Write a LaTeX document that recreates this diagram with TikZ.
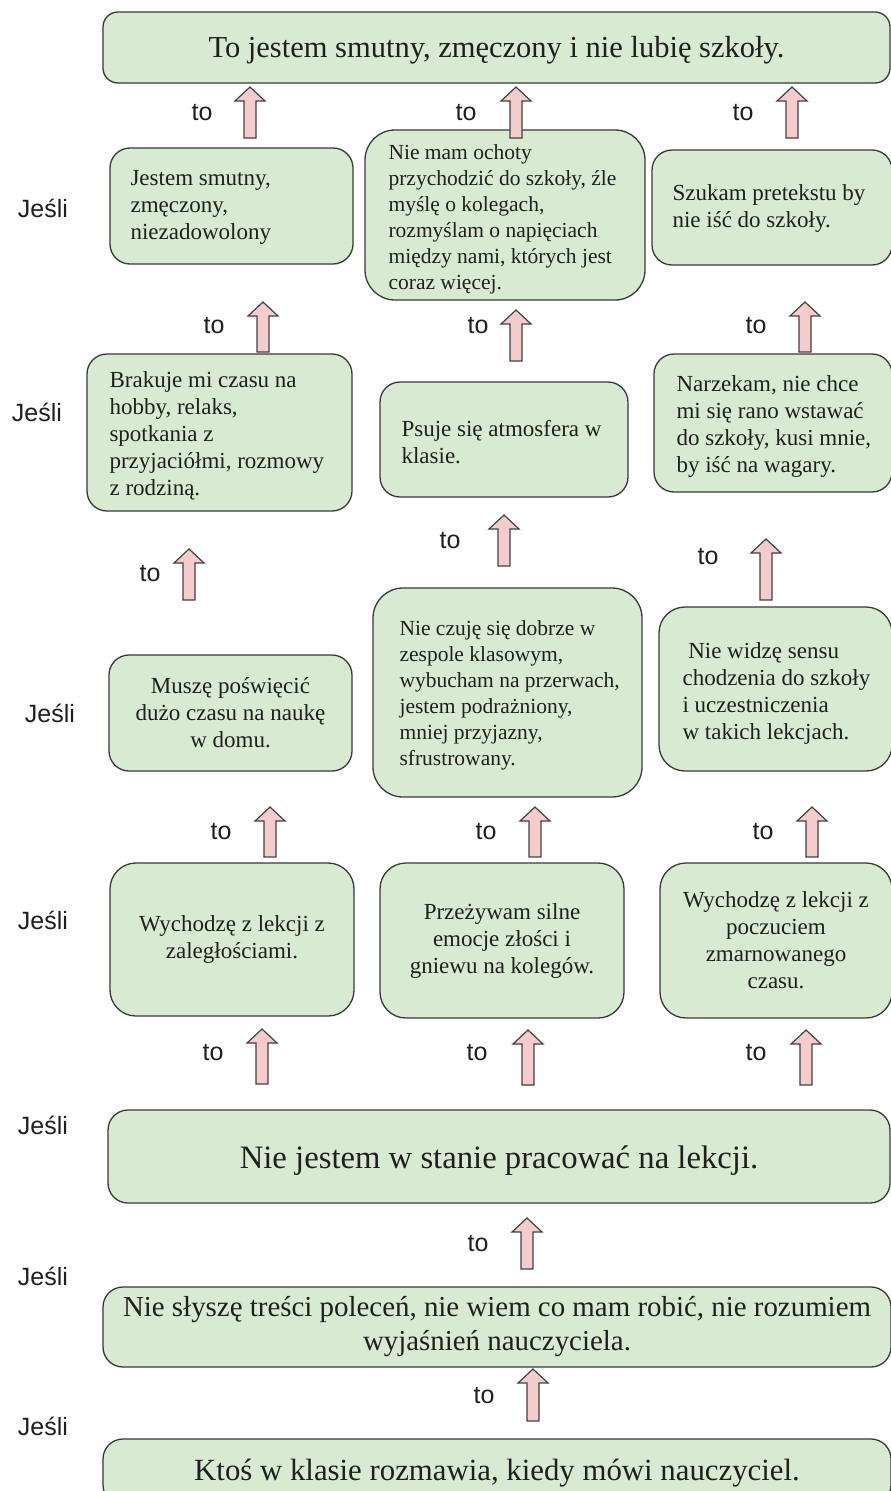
\documentclass[tikz,border=0pt]{standalone}
\usepackage{fontspec}
\setmainfont{Liberation Serif}
\newfontfamily\labelfont{Liberation Sans}
\usetikzlibrary{calc}
\definecolor{boxfill}{HTML}{D9EAD3}
\definecolor{boxline}{HTML}{3A3A3A}
\definecolor{arrowfill}{HTML}{F4CCCC}
\definecolor{arrowline}{HTML}{434343}
\definecolor{inktext}{HTML}{1F1F1F}
\tikzset{
  box/.style={draw=boxline, fill=boxfill, line width=1.3pt, rounded corners=20pt,
    inner xsep=10pt, inner ysep=3pt, text=inktext, font=\fontsize{23}{27}\selectfont},
  centerbox/.style={box, align=center},
  boxtext/.style={anchor=west, align=left, inner sep=0pt, text=inktext,
    font=\fontsize{23}{27}\selectfont},
  linetext/.style={inner sep=0pt, text=inktext},
  jesli/.style={font=\labelfont\fontsize{25}{28}\selectfont, text=inktext},
  tolabel/.style={font=\labelfont\fontsize{25}{28}\selectfont, text=inktext},
  blockarrow/.style={draw=arrowline, fill=arrowfill, line width=1.2pt, line join=miter}
}
% hollow upward block arrow from a base point to a tip point
\newcommand\upblock[2]{%
  \draw[blockarrow] let \p1=(#1), \p2=(#2) in
    (\x1-6pt,\y1) -- (\x1+6pt,\y1) -- (\x1+6pt,\y2-14pt) -- (\x1+15pt,\y2-14pt)
    -- (\x1,\y2) -- (\x1-15pt,\y2-14pt) -- (\x1-6pt,\y2-14pt) -- cycle;}
\begin{document}
\begin{tikzpicture}[x=1pt, y=-1pt]
\useasboundingbox (0,0) rectangle (891,1491);
\clip (0,0) rectangle (891,1491);
\fill[white] (0,0) rectangle (891,1491);

% top conclusion
\node[box, rounded corners=15pt, minimum width=787pt, minimum height=71pt] (top) at (496.5,47.5) {};
\node[linetext, anchor=base, font=\fontsize{30.5}{34}\selectfont] (topt) at ($(top.center)+(0,10)$)
  {To jestem smutny, zmęczony i nie lubię szkoły.};

% first row
\node[box, minimum width=243pt, minimum height=116pt] (a1) at (231.5,206) {};
\node[boxtext] (a1t) at ($(a1.west)+(21,1)$) {Jestem smutny,\\zmęczony,\\niezadowolony};
\node[box, rounded corners=30pt, minimum width=280pt, minimum height=170pt] (b1) at (505,215) {};
\node[boxtext, font=\fontsize{21.5}{26}\selectfont] (b1t) at ($(b1.west)+(24,4)$)
  {Nie mam ochoty\\przychodzić do szkoły, źle\\myślę o kolegach,\\rozmyślam o napięciach\\między nami, których jest\\coraz więcej.};
\node[box, minimum width=240pt, minimum height=115pt] (c1) at (772,207.5) {};
\node[boxtext] (c1t) at ($(c1.west)+(21,1)$) {Szukam pretekstu by\\nie iść do szkoły.};

% second row
\node[box, minimum width=265pt, minimum height=157pt] (a2) at (219.5,432.5) {};
\node[boxtext] (a2t) at ($(a2.west)+(23,3)$)
  {Brakuje mi czasu na\\hobby, relaks,\\spotkania z\\przyjaciółmi, rozmowy\\z rodziną.};
\node[box, minimum width=248pt, minimum height=115pt] (b2) at (504,439.5) {};
\node[boxtext] (b2t) at ($(b2.west)+(22,3)$) {Psuje się atmosfera w\\klasie.};
\node[box, minimum width=238pt, minimum height=138pt] (c2) at (773,423) {};
\node[boxtext] (c2t) at ($(c2.west)+(23,3)$)
  {Narzekam, nie chce\\mi się rano wstawać\\do szkoły, kusi mnie,\\by iść na wagary.};

% third row
\node[centerbox, minimum width=243pt, minimum height=116pt] (a3) at (230.5,713)
  {Muszę poświęcić\\dużo czasu na naukę\\w domu.};
\node[box, rounded corners=30pt, minimum width=269pt, minimum height=209pt] (b3) at (507.5,692.5) {};
\node[boxtext, font=\fontsize{21.5}{26}\selectfont] (b3t) at ($(b3.west)+(27,3)$)
  {Nie czuję się dobrze w\\zespole klasowym,\\wybucham na przerwach,\\jestem podrażniony,\\mniej przyjazny,\\sfrustrowany.};
\node[box, rounded corners=26pt, minimum width=233pt, minimum height=164pt] (c3) at (775.5,689) {};
\node[boxtext] (c3t) at ($(c3.west)+(24,4)$)
  {\hspace*{0.25em}Nie widzę sensu\\chodzenia do szkoły\\i uczestniczenia\\w takich lekcjach.};

% fourth row
\node[centerbox, rounded corners=26pt, minimum width=244pt, minimum height=153pt] (a4) at (232,939.5)
  {Wychodzę z lekcji z\\zaległościami.};
\node[centerbox, rounded corners=26pt, minimum width=244pt, minimum height=155pt] (b4) at (502,940.5)
  {Przeżywam silne\\emocje złości i\\gniewu na kolegów.};
\node[centerbox, rounded corners=26pt, minimum width=232pt, minimum height=155pt] (c4) at (776,940.5)
  {Wychodzę z lekcji z\\poczuciem\\zmarnowanego\\czasu.};

% lower chain
\node[box, minimum width=782pt, minimum height=93pt] (r5) at (499,1156.5) {};
\node[linetext, anchor=base, font=\fontsize{32.7}{36}\selectfont] (r5t) at ($(r5.center)+(0,12)$)
  {Nie jestem w stanie pracować na lekcji.};
\node[centerbox, minimum width=788pt, minimum height=80pt, inner xsep=3pt,
  font=\fontsize{28.9}{34}\selectfont] (r6) at (497,1327)
  {Nie słyszę treści poleceń, nie wiem co mam robić, nie rozumiem\\wyjaśnień nauczyciela.};
\node[box, minimum width=788pt, minimum height=66pt] (r7) at (497,1472) {};
\node[linetext, anchor=base, font=\fontsize{30.8}{34}\selectfont] (r7t) at (497,1480)
  {Ktoś w klasie rozmawia, kiedy mówi nauczyciel.};

% "Jeśli" labels
\node[jesli] (j1) at (43,208) {Jeśli};
\node[jesli] (j2) at (37,412) {Jeśli};
\node[jesli] (j3) at (50,713) {Jeśli};
\node[jesli] (j4) at (43,920) {Jeśli};
\node[jesli] (j5) at (43,1125) {Jeśli};
\node[jesli] (j6) at (43,1276) {Jeśli};
\node[jesli] (j7) at (43,1426) {Jeśli};

% arrow end points (base, tip)
\coordinate (p1b) at (250,138);  \coordinate (p1t) at (250,87);
\coordinate (p2b) at (516,138);  \coordinate (p2t) at (516,87);
\coordinate (p3b) at (792,138);  \coordinate (p3t) at (792,87);
\coordinate (q1b) at (263,352);  \coordinate (q1t) at (263,302);
\coordinate (q2b) at (516,361);  \coordinate (q2t) at (516,310);
\coordinate (q3b) at (805,352);  \coordinate (q3t) at (805,302);
\coordinate (s1b) at (189,600);  \coordinate (s1t) at (189,549);
\coordinate (s2b) at (504,566);  \coordinate (s2t) at (504,515);
\coordinate (s3b) at (766,600);  \coordinate (s3t) at (766,539);
\coordinate (u1b) at (270,857);  \coordinate (u1t) at (270,807);
\coordinate (u2b) at (535,857);  \coordinate (u2t) at (535,807);
\coordinate (u3b) at (812,857);  \coordinate (u3t) at (812,807);
\coordinate (v1b) at (262,1084); \coordinate (v1t) at (262,1029);
\coordinate (v2b) at (528,1085); \coordinate (v2t) at (528,1030);
\coordinate (v3b) at (806,1085); \coordinate (v3t) at (806,1030);
\coordinate (w1b) at (527,1269); \coordinate (w1t) at (527,1218);
\coordinate (x1b) at (533,1421); \coordinate (x1t) at (533,1369);

% block arrows
\upblock{p1b}{p1t} \upblock{p2b}{p2t} \upblock{p3b}{p3t}
\upblock{q1b}{q1t} \upblock{q2b}{q2t} \upblock{q3b}{q3t}
\upblock{s1b}{s1t} \upblock{s2b}{s2t} \upblock{s3b}{s3t}
\upblock{u1b}{u1t} \upblock{u2b}{u2t} \upblock{u3b}{u3t}
\upblock{v1b}{v1t} \upblock{v2b}{v2t} \upblock{v3b}{v3t}
\upblock{w1b}{w1t} \upblock{x1b}{x1t}

% "to" labels
\node[tolabel] (t1) at (202,113) {to};
\node[tolabel] (t2) at (466,113) {to};
\node[tolabel] (t3) at (743,113) {to};
\node[tolabel] (t4) at (214,326) {to};
\node[tolabel] (t5) at (478,326) {to};
\node[tolabel] (t6) at (756,326) {to};
\node[tolabel] (t7) at (150,574) {to};
\node[tolabel] (t8) at (450,541) {to};
\node[tolabel] (t9) at (708,557) {to};
\node[tolabel] (t10) at (221,832) {to};
\node[tolabel] (t11) at (486,832) {to};
\node[tolabel] (t12) at (763,832) {to};
\node[tolabel] (t13) at (213,1053) {to};
\node[tolabel] (t14) at (477,1053) {to};
\node[tolabel] (t15) at (756,1053) {to};
\node[tolabel] (t16) at (478,1244) {to};
\node[tolabel] (t17) at (484,1396) {to};
\end{tikzpicture}
\end{document}
